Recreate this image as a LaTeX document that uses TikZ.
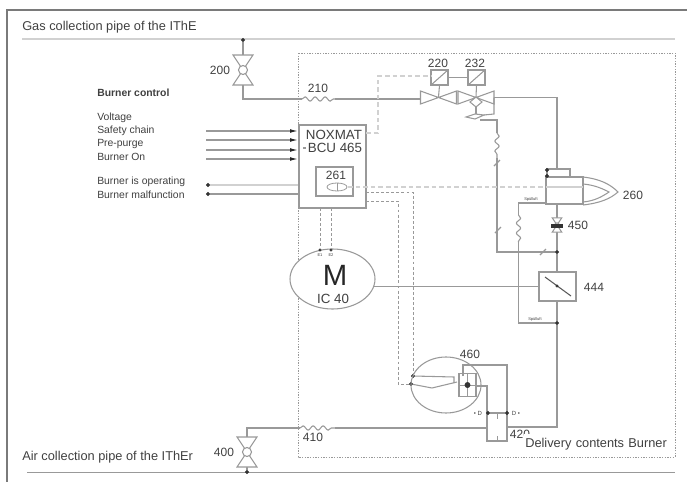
\documentclass[tikz,border=0pt]{standalone}
\usepackage{fontspec}
\setmainfont{Liberation Sans}
\usetikzlibrary{positioning}
\usetikzlibrary{shapes.geometric}
\usetikzlibrary{decorations.pathmorphing}
\usetikzlibrary{arrows.meta}
\definecolor{linegray}{gray}{0.6}
\definecolor{pipegray}{gray}{0.82}
\definecolor{textgray}{gray}{0.25}
\begin{document}
\begin{tikzpicture}
  [x=0.75pt,y=-0.75pt,
  line/.style={draw=linegray,line width=0.8pt},
  pipe/.style={draw=pipegray,line width=2pt},
  outer/.style={draw=linegray!80!black,line width=1.4pt},
  signal/.style={draw=linegray,line width=0.7pt,dash pattern=on 2.2pt off 1.6pt},
  palesignal/.style={draw=pipegray,line width=1.2pt,dash pattern=on 3.5pt off 2.2pt},
  border/.style={draw=black!40,line width=0.6pt,dash pattern=on 1pt off 1pt},
  dot/.style={circle,draw=black!80,fill=black!80,inner sep=0pt,minimum size=2.6pt},
  tag/.style={inner sep=0pt,font=\fontsize{9}{10}\selectfont,text=textgray},
  small/.style={inner sep=0pt,font=\fontsize{3}{3.5}\selectfont,text=textgray},
  caption/.style={inner sep=0pt,anchor=west,font=\fontsize{7.8}{9}\selectfont,text=textgray},
  heading/.style={inner sep=0pt,anchor=west,font=\fontsize{9.6}{11}\selectfont,text=black!75},
  spring/.style={line,decorate,decoration={snake,amplitude=1.6pt,segment length=7.5pt}},
  bowtie/.pic={\draw[line,fill=white] (-10,-15) -- (10,-15) -- (-10,15) -- (10,15) -- cycle;
    \draw[line,fill=white] (0,0) circle (4.5);},
  bowflat/.pic={\draw[line,fill=white] (-18,-6.5) -- (-18,6.5) -- (18,-6.5) -- (18,6.5) -- cycle;},
  solenoid/.style={line,minimum width=12.75pt,minimum height=11.25pt,inner sep=0pt}]
  \useasboundingbox (0,0) rectangle (687,482);
  % frame and collection pipes
  \coordinate (fa) at (7,482);
  \coordinate (fb) at (7,10);
  \coordinate (fc) at (687,10);
  \draw[outer] (fa) -- (fb) -- (fc);
  \coordinate (ga) at (22,39);
  \coordinate (gb) at (675,39);
  \draw[pipe] (ga) -- (gb);
  \coordinate (aa) at (27,472.5);
  \coordinate (ab) at (675,472.5);
  \draw[line,line width=1pt] (aa) -- (ab);
  \draw[border] (298,53) rectangle (675,457);
  \node[heading] (gastext) at (22,27) {Gas collection pipe of the IThE};
  \node[heading] (airtext) at (22,457) {Air collection pipe of the IThEr};

  % inputs and outputs
  \node[caption,font=\fontsize{7.8}{9}\selectfont\bfseries] (control) at (97,93) {Burner control};
  \node[caption] (voltage) at (97,118) {Voltage};
  \node[caption] (safety) at (97,131) {Safety chain};
  \node[caption] (purge) at (97,144) {Pre-purge};
  \node[caption] (on) at (97,157) {Burner On};
  \node[caption] (operating) at (97,182) {Burner is operating};
  \node[caption] (malfunction) at (97,195) {Burner malfunction};

  % control unit
  \node[draw=linegray,line width=0.9pt,minimum width=50.25pt,minimum height=62.25pt,inner sep=0pt] (bcu) at (332.5,166.5) {};
  \node[tag,font=\fontsize{10}{11}\selectfont] (noxmat) at (334,135) {NOXMAT};
  \node[tag,font=\fontsize{10}{11}\selectfont] (bcutext) at (335,148) {BCU 465};
  \node[draw=linegray,line width=0.8pt,minimum width=27.75pt,minimum height=21.75pt,inner sep=0pt] (ionbox) at (334.5,181.5) {};
  \node[tag] (ion) at (336,175) {261};
  \node[draw=linegray,line width=0.6pt,ellipse,minimum width=15pt,minimum height=6pt,inner sep=0pt] (ionel) at (337,187) {};
  \draw[line,line width=0.5pt] (ionel.north) -- (ionel.south);
  \foreach \name/\y in {ina/131,inb/140,inc/150,ind/159} {
    \coordinate (\name l) at (206,\y);
    \coordinate (\name r) at (298,\y);
    \draw[line,-{Latex[length=6pt,width=2.8pt,black!85]}] (\name l) -- (\name r);
  }
  \coordinate (bcua) at (303,148);
  \coordinate (bcub) at (306,148);
  \draw[line] (bcua) -- (bcub);
  \node[dot] (outa) at (208,185) {};
  \node[dot] (outb) at (208,194) {};
  \coordinate (outar) at (298,185);
  \coordinate (outbr) at (298,194);
  \draw[pipe] (outa) -- (outar);
  \draw[line] (outb) -- (outbr);

  % gas line
  \node[dot] (gasdot) at (243,40) {};
  \coordinate (gt) at (243,55);
  \draw[line] (gasdot) -- (gt);
  \pic at (243,70) {bowtie};
  \node[tag] (t200) at (220,70) {200};
  \coordinate (gv) at (243,85);
  \coordinate (gc) at (243,99);
  \coordinate (wa) at (302,99);
  \coordinate (wb) at (335,99);
  \coordinate (vl) at (420,99);
  \draw[line] (gv) -- (gc) -- (wa);
  \draw[spring] (wa) -- (wb);
  \draw[line] (wb) -- (vl);
  \node[tag] (t210) at (318,88) {210};
  \pic at (438.5,97.5) {bowflat};
  \pic at (476,97.5) {bowflat};
  \node[solenoid] (s220) at (439.5,77.5) {};
  \node[solenoid] (s232) at (476.5,77.5) {};
  \draw[line] (s220.north east) -- (s220.south west);
  \draw[line] (s232.north east) -- (s232.south west);
  \node[tag] (t220) at (438,63) {220};
  \node[tag] (t232) at (475,63) {232};
  \draw[line] (s220) -- (s232);
  \coordinate (c220) at (438.5,97);
  \coordinate (c232) at (476,97);
  \draw[line] (s220.south) -- (c220);
  \draw[line] (s232.south) -- (c232);
  \coordinate (da) at (476,97);
  \coordinate (db) at (482,102);
  \coordinate (dc) at (476,107);
  \coordinate (dd) at (470,102);
  \draw[line,fill=white] (da) -- (db) -- (dc) -- (dd) -- cycle;
  \coordinate (de) at (476,114);
  \draw[line] (dc) -- (de);
  % bypass with spring
  \coordinate (ra) at (466,117);
  \coordinate (rb) at (484,115);
  \draw[line,fill=white] (ra) -- (475,114) -- (rb) -- (475,119) -- cycle;
  \coordinate (ba) at (494,97.5);
  \coordinate (bb) at (494,114);
  \coordinate (bc) at (480,120);
  \coordinate (bd) at (497,120);
  \coordinate (be) at (497,133);
  \coordinate (bf) at (497,158);
  \coordinate (bg) at (497,252);
  \draw[line] (ba) -- (bb) -- (rb);
  \draw[line] (bc) -- (bd) -- (be);
  \draw[spring] (be) -- (bf);
  \node[dot] (gate) at (557,252) {};
  \draw[line] (bf) -- (bg) -- (gate);
  \foreach \name/\x/\y in {sla/497/163,slb/498/230,slc/543/252} {
    \coordinate (\name a) at (\x-3,\y+3);
    \coordinate (\name b) at (\x+3,\y-3);
    \draw[line] (\name a) -- (\name b);
  }
  \coordinate (mb) at (557,97.5);
  \coordinate (mc) at (557,169);
  \draw[line] (ba) -- (mb) -- (mc);

  % burner
  \node[draw=linegray,line width=0.8pt,minimum width=17.25pt,minimum height=6pt,inner sep=0pt] (pilot) at (558.5,173) {};
  \node[draw=linegray,line width=0.8pt,minimum width=27.75pt,minimum height=20.25pt,inner sep=0pt] (body) at (564.5,190.5) {};
  \node[dot] (pd) at (547,170) {};
  \node[dot] (pe) at (547,176) {};
  \draw[line] (583,177) .. controls (600,179) and (610,184) .. (618,192) .. controls (610,199) and (600,203) .. (583,205);
  \draw[line] (583,184) .. controls (595,185) and (603,189) .. (609,192) .. controls (603,196) and (595,201) .. (583,202);
  \node[tag] (t260) at (633,195) {260};
  \coordinate (na) at (546,187);
  \coordinate (nb) at (348,187);
  \coordinate (nc) at (583,187);
  \draw[palesignal] (nb) -- (na);
  \draw[pipe,line width=1.2pt] (na) -- (nc);
  \coordinate (bt) at (557,204);
  \draw[line] (bt) -- (gate);
  \pic[scale=0.48] at (557,225) {bowtie};
  \node[dot,rectangle,minimum width=8pt,minimum height=2.4pt] (vbar) at (557,226) {};
  \node[tag] (t450) at (578,225) {450};
  \coordinate (sa) at (546,203);
  \coordinate (sb) at (518.5,203);
  \coordinate (sc) at (518.5,215);
  \coordinate (sd) at (518.5,242);
  \draw[line] (sa) -- (sb) -- (sc);
  \draw[spring] (sc) -- (sd);
  \node[small] (spa) at (531,199.5) {Spülluft};
  \node[small] (spb) at (535,319.5) {Spülluft};

  % blower and sensor
  \node[draw=linegray,line width=0.8pt,fill=white,ellipse,minimum width=63.75pt,minimum height=45pt,inner sep=0pt] (motor) at (332.5,279) {};
  \node[inner sep=0pt,font=\fontsize{22}{23}\selectfont,text=black!85] (mtext) at (335,275) {M};
  \node[tag,font=\fontsize{10}{11}\selectfont] (ic) at (333,298.5) {IC 40};
  \node[draw=linegray,line width=0.8pt,minimum width=27.75pt,minimum height=21.75pt,inner sep=0pt] (sensor) at (557.5,286.5) {};
  \coordinate (sea) at (545,277);
  \coordinate (seb) at (571,296);
  \draw[line,black!65] (sea) -- (seb);
  \coordinate (sec) at (557,286);
  \node[dot,minimum size=1.8pt] (sed) at (sec) {};
  \node[tag] (t444) at (594,287) {444};
  \coordinate (mline) at (373.5,286.5);
  \draw[line] (mline) -- (sensor);
  \draw[line] (gate) -- (sensor.north -| gate);
  \node[dot] (lower) at (557,323) {};
  \draw[line] (sensor.south -| lower) -- (lower);
  \coordinate (se) at (518.5,323);
  \draw[line] (sd) -- (se) -- (lower);
  \coordinate (ub) at (507,427);
  \coordinate (ua) at (557,427);
  \draw[line] (lower) -- (ua) -- (ub);

  % burner control signals
  \coordinate (qa) at (366,133);
  \coordinate (qb) at (378,133);
  \coordinate (qc) at (378,76);
  \coordinate (qd) at (431,76);
  \draw[palesignal] (qa) -- (qb) -- (qc) -- (qd);
  \foreach \x/\name/\txt in {320/ea/E1,331/eb/E2} {
    \coordinate (\name t) at (\x,208);
    \node[dot,minimum size=1.8pt] (\name b) at (\x,250) {};
    \draw[signal] (\name t) -- (\name b);
    \node[small] (\name l) at (\x,255) {\txt};
  }
  \node[dot] (swa) at (413,376) {};
  \node[dot] (swb) at (411,384) {};
  \coordinate (ka) at (366,192);
  \coordinate (kb) at (413,192);
  \draw[signal] (ka) -- (kb) -- (swa);
  \coordinate (kd) at (366,201);
  \coordinate (ke) at (398,201);
  \coordinate (kf) at (398,384);
  \draw[signal] (kd) -- (ke) -- (kf) -- (swb);

  % air pressure switch
  \node[draw=linegray,line width=0.8pt,ellipse,minimum width=52.5pt,minimum height=42pt,inner sep=0pt] (switch) at (446,385) {};
  \node[tag] (t460) at (470,354) {460};
  \node[draw=linegray,line width=0.8pt,minimum width=12.75pt,minimum height=17.25pt,inner sep=0pt] (membrane) at (467.5,385) {};
  \draw[line,line width=0.5pt] (membrane.north) -- (membrane.south);
  \draw[line,line width=0.5pt] (membrane.west) -- (membrane.east);
  \node[dot,minimum size=4pt] (md) at (467.5,385) {};
  \coordinate (sw1) at (454,377);
  \coordinate (sw2) at (454,383);
  \coordinate (sw3) at (432,388);
  \coordinate (sw4) at (457,382);
  \draw[line] (swa) -- (sw1) -- (sw2);
  \draw[line] (swb) -- (sw3) -- (sw4);
  \coordinate (ha) at (463,376);
  \coordinate (hb) at (463,365);
  \coordinate (hc) at (507,365);
  \coordinate (hd) at (507,441);
  \coordinate (he) at (487,441);
  \coordinate (hf) at (487,386);
  \coordinate (hg) at (476,386);
  \draw[line] (ha) -- (hb) -- (hc) -- (hd) -- (he) -- (hf) -- (hg);
  \node[dot] (ja) at (488,413) {};
  \node[dot] (jb) at (507,413) {};
  \draw[line] (ja) -- (jb);
  \coordinate (ta) at (497,413);
  \coordinate (tb) at (497,419);
  \coordinate (tc) at (497,436);
  \coordinate (td) at (497,441);
  \draw[line,line width=0.5pt] (ta) -- (tb);
  \draw[line,line width=0.5pt] (tc) -- (td);
  \node[small,font=\fontsize{4.5}{5}\selectfont] (t20) at (478,413) {• D};
  \node[small,font=\fontsize{4.5}{5}\selectfont] (t21) at (516,413) {D •};
  \node[tag] (t420) at (520,434) {420};
  \node[heading,fill=white,inner ysep=3pt,inner xsep=0.75pt,text width=111.5pt] (delivery) at (524,444) {Delivery contents Burner};

  % air line
  \node[dot] (airdot) at (247,472) {};
  \coordinate (ab2) at (247,467);
  \draw[line] (airdot) -- (ab2);
  \pic at (247,452) {bowtie};
  \node[tag] (t400) at (224,452) {400};
  \coordinate (av) at (247,437);
  \coordinate (ac) at (247,428);
  \coordinate (aw) at (300,428);
  \coordinate (ax) at (335,428);
  \coordinate (ay) at (487,428);
  \draw[line] (av) -- (ac) -- (aw);
  \draw[spring] (aw) -- (ax);
  \draw[line] (ax) -- (ay);
  \node[tag] (t410) at (313,437) {410};
\end{tikzpicture}
\end{document}
